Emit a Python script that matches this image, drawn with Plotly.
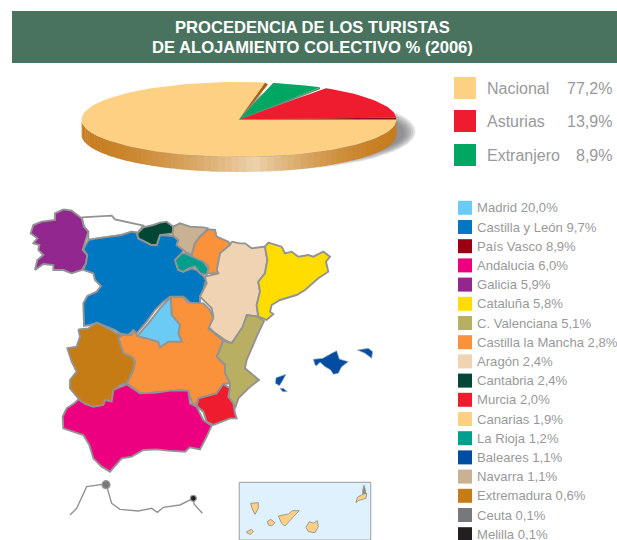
import plotly.graph_objects as go
import math

# ---------- data ----------
TITLE_LINES = ["PROCEDENCIA DE LOS TURISTAS", "DE ALOJAMIENTO COLECTIVO % (2006)"]

pie_labels = ["Nacional", "Asturias", "Extranjero"]
pie_values = [77.2, 13.9, 8.9]
pie_colors = ["#FED084", "#EE1C2E", "#00A763"]
pie_rim = ["#A8620F", "#8E1020", "#5E8F72"]
# edges of each slice on the tilted ellipse (deg)
pie_edges = {"Nacional": (80.5, 363.0), "Asturias": (56.5, 3.0), "Extranjero": (77.5, 59.0)}

region_labels = ["Madrid", "Castilla y León", "País Vasco", "Andalucia", "Galicia", "Cataluña",
                 "C. Valenciana", "Castilla la Mancha", "Aragón", "Cantabria", "Murcia", "Canarias",
                 "La Rioja", "Baleares", "Navarra", "Extremadura", "Ceuta", "Melilla"]
region_values = [20.0, 9.7, 8.9, 6.0, 5.9, 5.8, 5.1, 2.8, 2.4, 2.4, 2.0, 1.9, 1.2, 1.1, 1.1, 0.6, 0.1, 0.1]
region_colors = ["#6BCBF5", "#0078C1", "#9B0012", "#EC0080", "#92278F", "#FFDD00",
                 "#B9AF62", "#F9923A", "#EFD3B3", "#004835", "#EE1C2E", "#FED084",
                 "#009E8C", "#004DA1", "#C9B294", "#C67C14", "#77787B", "#231F20"]

Z1, Z2, Z3, Z4, Z7, Z8, Z12 = (0, 190), (190, 190), (50, 360), (230, 470), (60, 300), (300, 335), (262, 365)

outlines = [
 ("Asturias", "#FFFFFF", Z1, [(245,82),(335,77),(345,88),(430,107),(412,130),(410,128),(395,125),(365,135),(330,140),(290,145),(265,150),(265,125),(252,110)]),
 ("Galicia", "#92278F", Z1, [(190,58),(215,62),(245,85),(252,110),(265,125),(258,150),(248,180),(262,195),(258,220),(245,240),(215,250),(190,240),(160,240),(160,225),(130,222),(105,240),(112,210),(130,195),(115,180),(118,165),(100,160),(112,145),(92,130),(100,105),(125,95),(165,90),(165,70)]),
 ("Castilla y León", "#0078C1", Z1, [(250,178),(265,150),(290,145),(330,140),(365,135),(395,125),(410,128),(415,145),(445,160),(455,165),(470,165),(480,135),(520,138),(535,150),(530,165),(550,180),(545,190),(525,210),(535,240),(550,245),(575,235),(590,240),(610,258),(618,270),(610,300),(600,320),(600,340),(575,342),(550,320),(510,320),(490,335),(465,360),(440,395),(410,430),(400,420),(385,435),(360,430),(345,420),(320,410),(290,398),(270,405),(252,408),(250,340),(262,318),(290,305),(303,288),(285,270),(280,250),(265,245),(250,240),(258,220),(262,195)]),
 ("Cantabria", "#004835", Z1, [(412,130),(430,112),(460,105),(480,98),(500,95),(520,110),(518,130),(480,135),(470,165),(455,165),(445,160),(415,145)]),
 ("Navarra", "#C9B294", Z1, [(520,110),(540,100),(570,110),(610,112),(625,115),(600,140),(585,160),(575,195),(555,185),(550,180),(530,165),(535,150),(520,138),(518,130)]),
 ("Pais Vasco", "#F9923A", Z1, [(625,118),(645,120),(650,140),(685,155),(690,165),(665,190),(655,215),(655,250),(620,250),(625,230),(610,215),(580,205),(575,195),(585,160),(600,140)]),
 ("La Rioja", "#009E8C", Z1, [(525,210),(545,190),(555,190),(575,200),(610,215),(625,235),(620,255),(600,250),(585,230),(565,235),(550,245),(535,240)]),
 ("Aragón", "#EFD3B3", Z2, [(125,155),(150,160),(165,160),(185,175),(225,170),(232,210),(225,250),(205,275),(210,305),(200,345),(205,380),(170,375),(160,410),(125,460),(105,450),(70,425),(55,410),(70,380),(65,355),(30,320),(50,280),(45,260),(85,250),(80,240),(90,190),(120,165)]),
 ("Cataluña", "#FFDD00", Z2, [(225,170),(235,158),(275,170),(285,190),(305,185),(325,200),(355,195),(370,200),(400,185),(420,200),(408,215),(415,245),(385,265),(345,300),(320,315),(270,330),(245,345),(240,365),(250,372),(230,390),(205,380),(200,345),(210,305),(205,275),(225,250),(232,210)]),
 ("C. Valenciana", "#B9AF62", Z7, [(561,45),(594,50),(612,63),(590,110),(560,180),(555,205),(597,240),(565,265),(535,295),(525,325),(520,310),(505,290),(510,265),(510,250),(495,220),(495,195),(470,170),(490,122),(515,130),(548,80)]),
 ("Castilla la Mancha", "#F9923A", Z7, [(332,-9),(370,-9),(385,8),(430,10),(450,30),(460,55),(445,85),(490,122),(470,170),(495,195),(495,220),(510,250),(490,252),(470,280),(415,295),(405,318),(395,305),(385,275),(355,270),(330,278),(290,275),(250,285),(225,268),(200,250),(220,210),(225,185),(215,170),(190,160),(175,115),(185,105),(215,105),(220,90),(232,108),(295,125),(300,142),(325,125),(365,125),(355,100),(360,75),(335,45)]),
 ("Madrid", "#6BCBF5", Z7, [(332,-9),(335,45),(360,75),(355,100),(365,125),(325,125),(300,142),(295,125),(232,108),(265,70),(300,25)]),
 ("Extremadura", "#C67C14", Z7, [(55,88),(85,85),(112,68),(135,80),(170,100),(185,105),(175,115),(190,160),(215,170),(225,185),(220,210),(200,250),(180,255),(160,275),(160,305),(130,320),(100,320),(70,310),(55,295),(30,265),(30,240),(50,215),(35,185),(22,145),(50,140),(60,110)]),
 ("Murcia", "#EE1C2E", Z7, [(490,252),(510,265),(505,290),(520,310),(525,340),(530,355),(510,355),(460,375),(440,365),(430,335),(410,318),(415,295),(470,280)]),
 ("Andalucia", "#EC0080", Z3, [(85,118),(105,132),(130,140),(160,135),(165,120),(185,125),(190,90),(230,73),(270,100),(320,98),(360,92),(415,92),(420,130),(440,140),(460,180),(485,197),(470,230),(450,268),(420,262),(405,275),(355,272),(320,268),(280,270),(245,290),(215,295),(180,335),(155,320),(130,295),(118,255),(100,225),(40,205),(38,170),(50,145),(75,128)]),
]
balearic_outlines = [
 (Z8, [(40,73),(68,70),(95,55),(110,47),(118,72),(145,80),(125,95),(115,115),(100,118),(92,105),(75,95),(60,82),(50,92),(45,90)]),
 (Z8, [(172,45),(205,40),(218,50),(215,70),(195,55)]),
 (Z12, [(42,38),(72,28),(60,50),(52,62),(40,55)]),
 (Z12, [(54,70),(64,70),(76,80),(62,80)]),
]
canary_outlines = [
 (Z4, [(62,100),(85,98),(85,115),(75,133),(68,120)]),
 (Z4, [(50,185),(65,178),(70,185),(62,193),(52,190)]),
 (Z4, [(112,155),(122,148),(135,158),(125,168),(115,165)]),
 (Z4, [(145,138),(175,132),(188,122),(208,122),(195,135),(180,150),(165,168),(155,160)]),
 (Z4, [(238,155),(250,160),(262,152),(265,170),(255,188),(235,185),(228,172)]),
 (Z4, [(378,98),(382,82),(400,72),(410,70),(408,85),(385,92)]),
]
lanzarote_outline = (Z4, [(398,60),(402,45),(405,55),(408,70),(398,72)])
canary_box = (Z4, [(28,37),(422,37),(422,210),(28,210)])
africa_coast = (Z3, [(60,465),(80,445),(110,380),(165,372),(172,385),(185,430),(210,448),(265,453),(305,445),(322,457),(340,442),(390,435),(430,415),(432,432),(457,460)])
ceuta_point = (Z3, (168, 374))
melilla_point = (Z3, (430, 415))

# ---------- helpers ----------
BORDER = "#939393"
TXT = "#98999B"
fig = go.Figure()

def page(origin, pts):
    return [origin[0] + p[0] / 3 for p in pts], [origin[1] + p[1] / 3 for p in pts]

def poly(xs, ys, fill, line=None, width=0):
    fig.add_trace(go.Scatter(x=list(xs) + [xs[0]], y=list(ys) + [ys[0]], mode="lines", fill="toself",
                             fillcolor=fill, hoverinfo="skip",
                             line=dict(color=line or "rgba(0,0,0,0)", width=width)))

def label(x, y, text, size, color=TXT, anchor="left", family="Liberation Sans"):
    fig.add_annotation(x=x, y=y, text=text, showarrow=False, xanchor=anchor, yanchor="middle",
                       font=dict(family=family, size=size, color=color), xref="x", yref="y")

def pct(v):
    return f"{v:.1f}%".replace(".", ",")

def mix(c1, c2, t):
    a = [int(c1[i:i+2], 16) for i in (1, 3, 5)]
    b = [int(c2[i:i+2], 16) for i in (1, 3, 5)]
    return "rgb(%d,%d,%d)" % tuple(round(a[i] + (b[i] - a[i]) * t) for i in range(3))

# ---------- header ----------
poly([12, 617, 617, 12], [11, 11, 63, 63], "#4A735F")
label(312, 27.5, "<b>%s</b>" % TITLE_LINES[0], 16.6, "#FFFFFF", "center")
label(312, 47.5, "<b>%s</b>" % TITLE_LINES[1], 16.6, "#FFFFFF", "center")

# ---------- tilted pie ----------
CX, CY, RX, RY, DEPTH = 239.0, 119.5, 157.5, 37.5, 15.0

def ell(t, dx=0.0, dy=0.0, rx=RX, ry=RY):
    r = math.radians(t)
    return CX + dx + rx * math.cos(r), CY + dy - ry * math.sin(r)

for i in range(6):
    sx, sy = zip(*[ell(a * 6, 17, 12 + i * 0.3, RX + 2 - i * 2.2, RY + 2 - i * 1.6) for a in range(60)])
    poly(sx, sy, "rgba(110,110,115,0.20)")

N = 70
for i in range(N):
    a0, a1 = 180 + i * 180 / N, 180 + (i + 1.15) * 180 / N
    top = [ell(a0 + (a1 - a0) * k / 4) for k in range(5)]
    xs = [p[0] for p in top] + [p[0] for p in reversed(top)]
    ys = [p[1] for p in top] + [p[1] + DEPTH for p in reversed(top)]
    xm = (top[0][0] + top[-1][0]) / 2
    t = 1 - abs(xm - 255) / (255 - CX + RX if xm < 255 else CX + RX - 255)
    poly(xs, ys, mix("#C67C1E", "#ECD2AC", t ** 1.6))

poly([CX, ell(80.5)[0] + 3, ell(80.5)[0]], [CY, ell(80.5)[1] + 2, ell(80.5)[1]], pie_rim[0])
for name, col, rim in zip(pie_labels, pie_colors, pie_rim):
    a0, a1 = pie_edges[name]
    steps = 120 if name == "Nacional" else 24
    pts = [ell(a0 + (a1 - a0) * k / steps) for k in range(steps + 1)]
    xs = [CX] + [p[0] for p in pts]
    ys = [CY] + [p[1] for p in pts]
    if name != "Nacional":
        end = ell(min(a0, a1))
        poly([CX, end[0], end[0]], [CY, end[1], end[1] + 2], rim)
    poly(xs, ys, col)

# pie legend
fig.add_trace(go.Scatter(x=[465] * 3, y=[88, 121, 155], mode="markers", hoverinfo="skip",
                         marker=dict(symbol="square", size=22, color=pie_colors, line=dict(width=0))))
for name, val, y in zip(pie_labels, pie_values, [88, 121, 155]):
    label(485, y, name, 16)
    label(614, y, pct(val), 16, anchor="right")

# ---------- map ----------
for name, col, origin, pts in outlines:
    xs, ys = page(origin, pts)
    poly(xs, ys, col, BORDER, 1.9)
for origin, pts in balearic_outlines:
    xs, ys = page(origin, pts)
    poly(xs, ys, "#004DA1", "#A9B4C4", 0.7)

xs, ys = page(*canary_box)
poly(xs, ys, "#DFF1FC", "#A8ADB0", 1.2)
for origin, pts in canary_outlines:
    xs, ys = page(origin, pts)
    poly(xs, ys, "#FED084", BORDER, 0.9)
xs, ys = page(*lanzarote_outline)
poly(xs, ys, "#8C8F8A", "#8C8F8A", 0.6)

xs, ys = page(*africa_coast)
fig.add_trace(go.Scatter(x=xs, y=ys, mode="lines", hoverinfo="skip", line=dict(color=BORDER, width=1.4)))
for pt, col, size, rim in [(ceuta_point, "#77787B", 8, "#9A9A9A"), (melilla_point, "#231F20", 6, "#999999")]:
    px, py = page(pt[0], [pt[1]])
    fig.add_trace(go.Scatter(x=px, y=py, mode="markers", hoverinfo="skip",
                             marker=dict(size=size, color=col, line=dict(color=rim, width=1.2))))

# map legend
rows = [207.8 + i * 19.2 for i in range(len(region_labels))]
fig.add_trace(go.Scatter(x=[465] * len(rows), y=rows, mode="markers", hoverinfo="skip",
                         marker=dict(symbol="square", size=14, color=region_colors, line=dict(width=0))))
for name, val, y in zip(region_labels, region_values, rows):
    label(474.5, y, f"{name} {pct(val)}", 13.1)

fig.update_layout(
    width=617, height=540, margin=dict(l=0, r=0, t=0, b=0),
    paper_bgcolor="white", plot_bgcolor="white", showlegend=False,
    xaxis=dict(range=[0, 617], visible=False, fixedrange=True),
    yaxis=dict(range=[540, 0], visible=False, fixedrange=True),
)
fig.write_html("out.html", config={"displayModeBar": False},
               post_script="document.body.style.margin='0';document.body.style.overflow='hidden';")
